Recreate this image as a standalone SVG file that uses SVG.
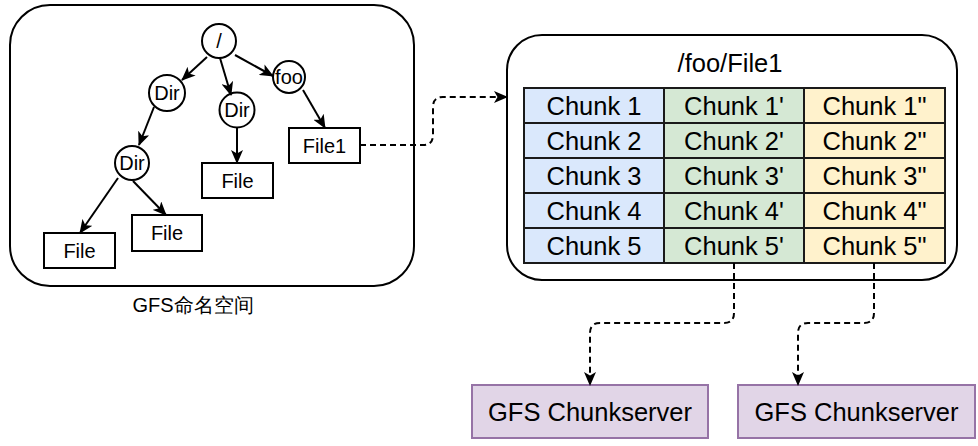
<svg xmlns="http://www.w3.org/2000/svg" width="978" height="446" viewBox="0 0 978 446">
<style>
text{font-family:"Liberation Sans",Arial,sans-serif;fill:#000;text-anchor:middle}
.t20{font-size:20px}
.t25{font-size:25.5px}
.cont{fill:#fff;stroke:#000;stroke-width:2}
.node{fill:#fff;stroke:#000;stroke-width:2}
.edge{fill:none;stroke:#000;stroke-width:2}
.dash{fill:none;stroke:#000;stroke-width:2;stroke-dasharray:6 4}
.c1{fill:#dae8fc;stroke:#1a1a1a;stroke-width:2}
.c2{fill:#d5e8d4;stroke:#1a1a1a;stroke-width:2}
.c3{fill:#fff2cc;stroke:#1a1a1a;stroke-width:2}
.cs{fill:#e1d5e7;stroke:#9673a6;stroke-width:2}
</style>
<defs>
<marker id="arr" markerUnits="userSpaceOnUse" viewBox="0 0 14 12" refX="13" refY="6" markerWidth="14" markerHeight="12" orient="auto">
<path d="M0,0 L14,6 L0,12 L3.5,6 Z" fill="#000"/>
</marker>
</defs>
<g id="namespace">
<rect class="cont" x="10" y="5" width="404" height="281" rx="40" ry="40"/>
<text class="t20" x="193" y="312">GFS命名空间</text>
</g>
<g id="file1-container">
<rect class="cont" x="507" y="35" width="450" height="245" rx="35" ry="35"/>
<text class="t25" x="730" y="72">/foo/File1</text>
</g>
<g id="root"><circle class="node" cx="219" cy="41" r="17"/><text class="t20" x="219" y="48">/</text></g>
<g id="dir1"><circle class="node" cx="167" cy="93" r="18"/><text class="t20" x="167" y="100">Dir</text></g>
<g id="dir2"><circle class="node" cx="237" cy="110" r="17.5"/><text class="t20" x="237" y="117">Dir</text></g>
<g id="foo"><circle class="node" cx="289" cy="77" r="16"/><text class="t20" x="289" y="84">foo</text></g>
<g id="dir3"><circle class="node" cx="132" cy="163" r="17"/><text class="t20" x="132" y="170">Dir</text></g>
<g id="file1"><rect class="node" x="289" y="128" width="71" height="35"/><text class="t20" x="324.5" y="153">File1</text></g>
<g id="file-a"><rect class="node" x="202" y="163" width="71" height="35"/><text class="t20" x="237.5" y="188">File</text></g>
<g id="file-b"><rect class="node" x="44" y="233" width="71" height="35"/><text class="t20" x="79.5" y="258">File</text></g>
<g id="file-c"><rect class="node" x="132" y="215" width="70" height="36"/><text class="t20" x="167" y="240">File</text></g>
<g id="chunks">
<rect class="c1" x="524" y="88" width="140" height="35"/>
<rect class="c1" x="524" y="123" width="140" height="35"/>
<rect class="c1" x="524" y="158" width="140" height="35"/>
<rect class="c1" x="524" y="193" width="140" height="35"/>
<rect class="c1" x="524" y="228" width="140" height="35"/>
<rect class="c2" x="664" y="88" width="140" height="35"/>
<rect class="c2" x="664" y="123" width="140" height="35"/>
<rect class="c2" x="664" y="158" width="140" height="35"/>
<rect class="c2" x="664" y="193" width="140" height="35"/>
<rect class="c2" x="664" y="228" width="140" height="35"/>
<rect class="c3" x="804" y="88" width="141" height="35"/>
<rect class="c3" x="804" y="123" width="141" height="35"/>
<rect class="c3" x="804" y="158" width="141" height="35"/>
<rect class="c3" x="804" y="193" width="141" height="35"/>
<rect class="c3" x="804" y="228" width="141" height="35"/>
<text class="t25" x="594" y="115">Chunk 1</text>
<text class="t25" x="594" y="150">Chunk 2</text>
<text class="t25" x="594" y="185">Chunk 3</text>
<text class="t25" x="594" y="220">Chunk 4</text>
<text class="t25" x="594" y="255">Chunk 5</text>
<text class="t25" x="734" y="115">Chunk 1'</text>
<text class="t25" x="734" y="150">Chunk 2'</text>
<text class="t25" x="734" y="185">Chunk 3'</text>
<text class="t25" x="734" y="220">Chunk 4'</text>
<text class="t25" x="734" y="255">Chunk 5'</text>
<text class="t25" x="874.5" y="115">Chunk 1"</text>
<text class="t25" x="874.5" y="150">Chunk 2"</text>
<text class="t25" x="874.5" y="185">Chunk 3"</text>
<text class="t25" x="874.5" y="220">Chunk 4"</text>
<text class="t25" x="874.5" y="255">Chunk 5"</text>
</g>
<g id="cs1"><rect class="cs" x="472" y="385" width="236" height="53"/><text class="t25" x="590" y="421">GFS Chunkserver</text></g>
<g id="cs2"><rect class="cs" x="738" y="385" width="237" height="53"/><text class="t25" x="856.5" y="421">GFS Chunkserver</text></g>
<g id="connectors">
<line class="edge" x1="207" y1="57" x2="182" y2="80" marker-end="url(#arr)"/>
<line class="edge" x1="220" y1="58" x2="231" y2="95" marker-end="url(#arr)"/>
<line class="edge" x1="235" y1="55" x2="273" y2="76" marker-end="url(#arr)"/>
<line class="edge" x1="154" y1="107" x2="139" y2="145" marker-end="url(#arr)"/>
<line class="edge" x1="237" y1="128" x2="237" y2="163" marker-end="url(#arr)"/>
<line class="edge" x1="303" y1="90" x2="325" y2="128" marker-end="url(#arr)"/>
<line class="edge" x1="118" y1="178" x2="80" y2="233" marker-end="url(#arr)"/>
<line class="edge" x1="133" y1="181" x2="166" y2="215" marker-end="url(#arr)"/>
<path class="dash" d="M360,145 L423,145 Q433,145 433,135 L433,107 Q433,97 443,97 L507,97" marker-end="url(#arr)"/>
<path class="dash" d="M734,263 L734,313 Q734,323 724,323 L600,323 Q590,323 590,333 L590,385" marker-end="url(#arr)"/>
<path class="dash" d="M874,263 L874,313 Q874,323 864,323 L808,323 Q798,323 798,333 L798,385" marker-end="url(#arr)"/>
</g>
</svg>
